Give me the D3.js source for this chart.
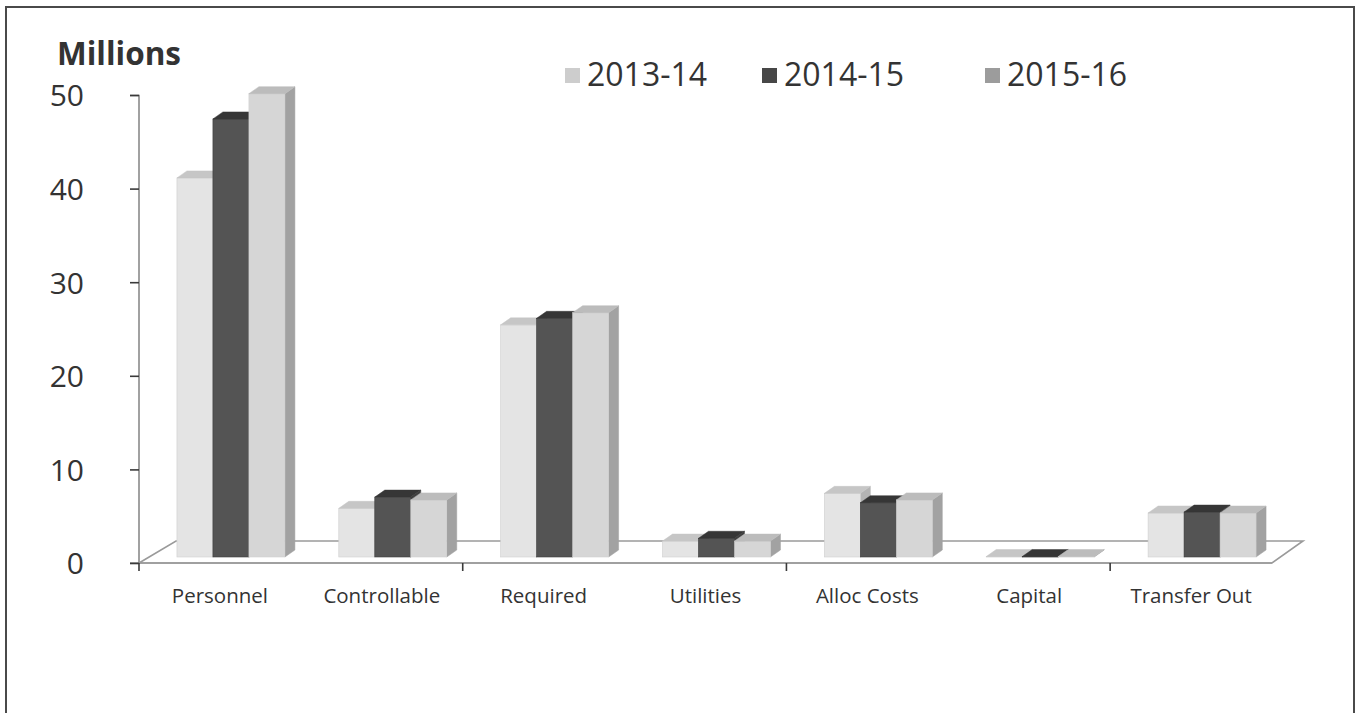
<!DOCTYPE html>
<html><head><meta charset="utf-8">
<script src="https://cdn.jsdelivr.net/npm/d3@7"></script>
<style>html,body{margin:0;padding:0;background:#fff;overflow:hidden}svg{display:block;font-family:"Open Sans",sans-serif}</style>
</head><body><svg id="c" width="1356" height="713"></svg>
<script>
const categories = ["Personnel","Controllable","Required","Utilities","Alloc Costs","Capital","Transfer Out"];
const seriesNames = ["2013-14","2014-15","2015-16"];
const values1314 = [40.5, 5.2, 24.8, 1.7, 6.8, 0.05, 4.7];
const values1415 = [46.8, 6.4, 25.5, 2.0, 5.8, 0.05, 4.8];
const values1516 = [49.5, 6.1, 26.1, 1.7, 6.1, 0.05, 4.7];
const yTicks = [0, 10, 20, 30, 40, 50];
const allValues = [values1314, values1415, values1516];

const frontColors = ["#e4e4e4", "#545454", "#d6d6d6"];
const topColors   = ["#c6c6c6", "#363636", "#bcbcbc"];
const sideColors  = ["#b4b4b4", "#404040", "#a2a2a2"];
const legendColors = ["#cdcdcd", "#474747", "#9c9c9c"];

const svg = d3.select("#c");
// frame
svg.append("rect").attr("x",6).attr("y",7).attr("width",1348).attr("height",712)
  .attr("fill","none").attr("stroke","#4a4a4a").attr("stroke-width",2);

const axisX0 = 139, axisX1 = 1272, axisY0 = 563;
const x = d3.scaleBand().domain(categories).range([axisX0, axisX1]);
const yAxisScale = d3.scaleLinear().domain([0,50]).range([axisY0, 95]);
const barBase = 557;
const yBar = d3.scaleLinear().domain([0,50]).range([barBase, barBase - 468]);
const inner = d3.scaleBand().domain(seriesNames).range([0, x.bandwidth()*0.667]);
const barShift = 11; // depth shift of bar plane
const cdx = 10, cdy = 7; // bar cap depth

// floor
const floorDx = 36, floorDy = 22;
svg.append("path")
  .attr("d", `M${axisX0},${axisY0} L${axisX0+floorDx+1},${axisY0-floorDy} L${axisX1+floorDx-5},${axisY0-floorDy} L${axisX1},${axisY0} Z`)
  .attr("fill","#fff").attr("stroke","#9a9a9a").attr("stroke-width",1.6);

// y axis
const yAxis = d3.axisLeft(yAxisScale).tickValues(yTicks).tickSize(9).tickPadding(46).tickFormat(d3.format("d"));
const gy = svg.append("g").attr("transform",`translate(${axisX0},0)`).call(yAxis);
gy.select(".domain").attr("stroke","#8a8a8a").attr("stroke-width",1.6).attr("d",`M-9,95.5H0V${axisY0}H-9`);
gy.selectAll(".tick line").attr("stroke","#3a3a3a").attr("stroke-width",1.6);
gy.selectAll(".tick text").attr("font-size",30).attr("fill","#333").attr("font-family","'Open Sans',sans-serif").attr("dy","0.36em");

// x axis line & ticks
svg.append("line").attr("x1",axisX0).attr("x2",axisX1).attr("y1",axisY0).attr("y2",axisY0)
  .attr("stroke","#9a9a9a").attr("stroke-width",1.6);
categories.forEach((c,i)=>{
  if (i % 2 === 0) {
    svg.append("line").attr("x1",x(c)).attr("x2",x(c)).attr("y1",axisY0).attr("y2",axisY0+8)
      .attr("stroke","#3a3a3a").attr("stroke-width",1.6);
  }
});
// category labels
svg.append("g").selectAll("text").data(categories).join("text")
  .attr("x", d => x(d) + x.bandwidth()/2)
  .attr("y", 603)
  .attr("text-anchor","middle").attr("font-size",20.5).attr("fill","#333")
  .text(d => d);

// bars
const bars = svg.append("g");
categories.forEach((c,ci)=>{
  const groupW = x.bandwidth()*0.667;
  const gx = x(c) + x.bandwidth()/2 - groupW/2 + barShift;
  seriesNames.forEach((s,si)=>{
    const v = allValues[si][ci];
    const x0 = gx + inner(s), w = inner.bandwidth();
    const yt = yBar(v), yb = yBar(0);
    // side
    bars.append("path").attr("d",`M${x0+w},${yb} L${x0+w+cdx},${yb-cdy} L${x0+w+cdx},${yt-cdy} L${x0+w},${yt} Z`)
      .attr("fill",sideColors[si]).attr("stroke",sideColors[si]).attr("stroke-width",0.5);
    // front
    bars.append("rect").attr("x",x0).attr("y",yt).attr("width",w).attr("height",Math.max(0.5,yb-yt))
      .attr("fill",frontColors[si]).attr("stroke",si===1?"#3c3c3c":"#cfcfcf").attr("stroke-width",0.6);
    // top
    bars.append("path").attr("d",`M${x0},${yt} L${x0+cdx},${yt-cdy} L${x0+w+cdx},${yt-cdy} L${x0+w},${yt} Z`)
      .attr("fill",topColors[si]).attr("stroke",topColors[si]).attr("stroke-width",0.5);
  });
});

// title
svg.append("text").attr("x",57).attr("y",65).attr("font-size",31.5).attr("font-weight","bold")
  .attr("fill","#333").text("Millions");

// legend
const legendX = [565, 762, 985];
const lg = svg.append("g");
seriesNames.forEach((s,i)=>{
  lg.append("rect").attr("x",legendX[i]).attr("y",68).attr("width",15).attr("height",15)
    .attr("fill",legendColors[i]);
  lg.append("text").attr("x",legendX[i]+22).attr("y",86).attr("font-size",32).attr("fill","#333").text(s);
});
</script>
</body></html>
